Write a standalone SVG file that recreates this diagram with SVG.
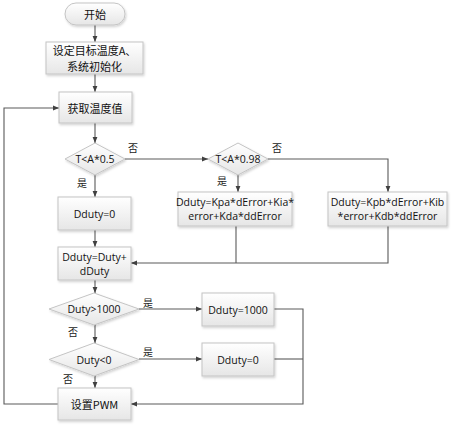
<svg xmlns="http://www.w3.org/2000/svg" width="453" height="425" viewBox="0 0 453 425">
<defs>
<linearGradient id="g" x1="0" y1="0" x2="0" y2="1">
<stop offset="0" stop-color="#ffffff"/>
<stop offset="1" stop-color="#e6e6e6"/>
</linearGradient>
<filter id="sh" x="-10%" y="-10%" width="130%" height="140%">
<feDropShadow dx="1" dy="1.5" stdDeviation="0.8" flood-color="#000" flood-opacity="0.18"/>
</filter>
<marker id="a" viewBox="0 0 10 10" refX="10" refY="5" markerWidth="6" markerHeight="6" orient="auto" markerUnits="userSpaceOnUse">
<path d="M0,1 L10,5 L0,9 z" fill="#404040"/>
</marker>
</defs>
<style>
.n{fill:url(#g);stroke:#c4c4c4;stroke-width:1;filter:url(#sh)}
.t{font-family:"Open Sans","Noto Sans",sans-serif;font-size:10.5px;fill:#111;text-anchor:middle;dominant-baseline:central}
.c{font-family:"Noto Sans CJK SC",sans-serif;font-size:11px;fill:#111;text-anchor:middle;dominant-baseline:central}
.l{font-family:"Noto Sans CJK SC",sans-serif;font-size:10px;fill:#222;text-anchor:middle;dominant-baseline:central}
.e{fill:none;stroke:#5a5a5a;stroke-width:1.1}
.ea{fill:none;stroke:#5a5a5a;stroke-width:1.1;marker-end:url(#a)}
</style>
<rect width="453" height="425" fill="#fff"/>
<g id="connectors">
<path class="ea" d="M95,25 V42"/>
<path class="ea" d="M95,74 V92"/>
<path class="ea" d="M95,123 V143"/>
<path class="ea" d="M95,175 V197"/>
<path class="ea" d="M125,159 H208"/>
<path class="ea" d="M238,175 V192"/>
<path class="ea" d="M268,159 H388 V192"/>
<path class="ea" d="M95,230 V247"/>
<path class="e" d="M236,226 V263"/>
<path class="ea" d="M388,226 V263 H131"/>
<path class="ea" d="M95,280 V293"/>
<path class="ea" d="M139,309 H202"/>
<path class="ea" d="M95,325 V343"/>
<path class="ea" d="M139,359 H202"/>
<path class="ea" d="M95,376 V388"/>
<path class="ea" d="M274,309 H303 V404 H131"/>
<path class="e" d="M274,359 H303"/>
<path class="ea" d="M58,404 H4 V108 H59"/>
<text class="l" x="133" y="147">否</text>
<text class="l" x="82" y="182">是</text>
<text class="l" x="277" y="147">否</text>
<text class="l" x="222" y="180">是</text>
<text class="l" x="148" y="302">是</text>
<text class="l" x="73" y="331">否</text>
<text class="l" x="148" y="351">是</text>
<text class="l" x="68" y="378">否</text>
</g>
<g id="start">
<rect class="n" x="65" y="3" width="60" height="22" rx="11"/>
<text class="c" x="95" y="14">开始</text>
</g>
<g id="init">
<rect class="n" x="46" y="42" width="97" height="32"/>
<text class="c" x="94.5" y="50">设定目标温度A、</text>
<text class="c" x="94.5" y="66">系统初始化</text>
</g>
<g id="gettemp">
<rect class="n" x="59" y="92" width="73" height="31"/>
<text class="c" x="95" y="107.5">获取温度值</text>
</g>
<g id="d1">
<polygon class="n" points="95,143 125,159 95,175 65,159"/>
<text class="t" x="95" y="159">T&lt;A*0.5</text>
</g>
<g id="d2">
<polygon class="n" points="238,143 268,159 238,175 208,159"/>
<text class="t" x="238" y="159">T&lt;A*0.98</text>
</g>
<g id="dduty0">
<rect class="n" x="58" y="197" width="73" height="33"/>
<text class="t" x="94.5" y="213.5">Dduty=0</text>
</g>
<g id="kpa">
<rect class="n" x="178" y="192" width="114" height="34"/>
<text class="t" x="235" y="202">Dduty=Kpa*dError+Kia*</text>
<text class="t" x="235" y="216">error+Kda*ddError</text>
</g>
<g id="kpb">
<rect class="n" x="328" y="192" width="119" height="34"/>
<text class="t" x="387.5" y="202">Dduty=Kpb*dError+Kib</text>
<text class="t" x="387.5" y="216">*error+Kdb*ddError</text>
</g>
<g id="sum">
<rect class="n" x="58" y="247" width="73" height="33"/>
<text class="t" x="94.5" y="257">Dduty=Duty+</text>
<text class="t" x="94.5" y="271">dDuty</text>
</g>
<g id="d3">
<polygon class="n" points="94,293 139,309 94,325 49,309"/>
<text class="t" x="94" y="309">Duty&gt;1000</text>
</g>
<g id="d4">
<polygon class="n" points="94,343 139,359.5 94,376 49,359.5"/>
<text class="t" x="94" y="359.5">Duty&lt;0</text>
</g>
<g id="dduty1000">
<rect class="n" x="202" y="293" width="72" height="33"/>
<text class="t" x="238" y="309.5">Dduty=1000</text>
</g>
<g id="dduty0b">
<rect class="n" x="202" y="343" width="72" height="33"/>
<text class="t" x="238" y="359.5">Dduty=0</text>
</g>
<g id="pwm">
<rect class="n" x="58" y="388" width="73" height="32"/>
<text class="c" x="94.5" y="404">设置PWM</text>
</g>
</svg>
